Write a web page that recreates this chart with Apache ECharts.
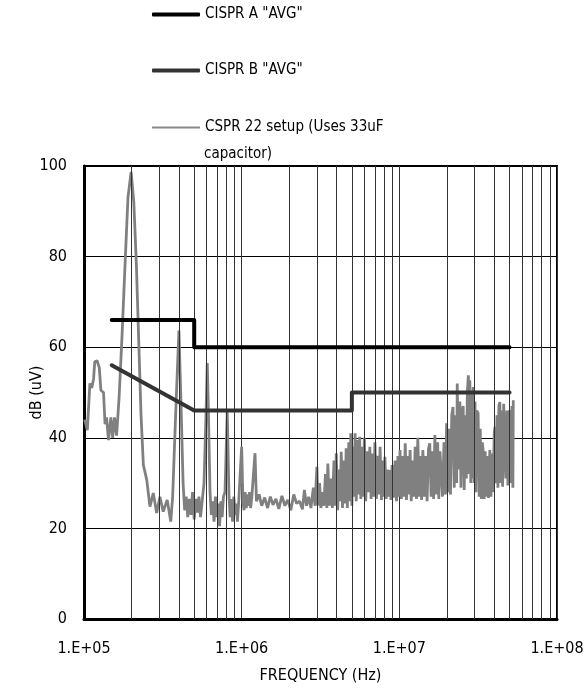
<!DOCTYPE html>
<html>
<head>
<meta charset="utf-8">
<script src="https://cdn.jsdelivr.net/npm/echarts@6/dist/echarts.min.js"></script>
<style>
html,body{margin:0;padding:0;background:#fff;}
#chart{width:587px;height:696px;}
</style>
</head>
<body>
<div id="chart"></div>
<script>
var FONT = '"Liberation Sans Narrow", "Arial Narrow", "DejaVu Sans Condensed", sans-serif';

var seriesNames = ['CISPR A "AVG"', 'CISPR B "AVG"', 'CSPR 22 setup (Uses 33uF capacitor)'];
var xTickLabels = ['1.E+05', '1.E+06', '1.E+07', '1.E+08'];
var yTicks = [0, 20, 40, 60, 80, 100];

// limit lines [frequency kHz, dB]
var cisprA = [[150, 66], [500, 66], [500, 60], [50000, 60]];
var cisprB = [[150, 56], [500, 46], [5000, 46], [5000, 50], [50000, 50]];

// minor vertical gridlines (kHz)
var minorFreqs = [200,300,400,500,600,700,800,900,
  2000,3000,4000,5000,6000,7000,8000,9000,
  20000,30000,40000,50000,60000,70000,80000,90000];

// measured spectrum [frequency kHz, dB(uV)]
var noise = [
 [101,44],[105,41.7],[109,52],[112,51],[115,53],[117,56.8],[121,57],[125,55.5],[128,50.5],[133,50],
 [136,43],[139,44.5],[143,39.5],[148,44.5],[152,40],[156,44.5],[161,40.5],[167,49],[174,62],[182,78],
 [190,93],[199,98.7],[207,92],[215,78],[223,60],[230,45],[238,34],[250,30.7],[262,24.8],[275,27.8],
 [289,23.4],[303,27],[318,23.7],[337,26.3],[355,21.5],[365,27],[372,35],[386,50],[400,63.7],[412,48],
 [425,30],[435,24],[445,27],[455,22.5],[466,26.5],[477,23],[488,28],[500,22],[512,26.5],[524,23.5],
 [536,27],[548,22.5],[560,25.5],[577,30],[594,45],[605,56.5],[616,45],[630,28],[642,23],[655,26],
 [668,21.5],[682,27],[696,22.5],[710,25.5],[724,20.5],[738,26],[752,22.5],[766,27],[784,28],[810,45.7],
 [831,27],[845,22.5],[860,26.5],[876,21.5],[892,27],[908,23],[924,25.5],[940,21.5],[958,26],[975,26],
 [1000,38],[1019,26],[1035,24],[1052,28],[1070,24.5],[1088,27.5],[1105,25],[1122,28],[1140,24.5],[1160,27],
 [1188,27],[1215,36.6],[1241,26],[1290,27.5],[1340,25],[1400,26.8],[1460,24.5],[1520,27],[1580,25.2],[1650,26.5],
 [1720,24.3],[1800,27.2],[1880,25],[1960,26.3],[2050,24],[2140,27.5],[2230,25.5],[2330,26],[2430,24.2],[2500,28.5],
 [2580,25],[2660,27],[2750,24.5],[2850,29],[2920,25],
 [3000,33.6],[3050,25],[3120,30],[3180,24.5],[3250,28],[3320,25],[3400,32],[3470,24.5],[3520,34.3],[3600,25],
 [3680,31],[3760,24.5],[3850,35],[3920,25],[3980,36.6],[4060,24],[4150,33],[4220,26],[4280,36.9],[4360,24.5],
 [4450,35],[4520,25.5],[4600,37.7],[4680,24.5],[4780,39],[4860,26],[4920,41],[5000,25],[5080,38],[5160,27],
 [5240,41],[5330,26],[5420,39.5],[5500,27.5],[5600,40.2],[5700,26.5],[5800,38],[5900,27],[6000,40],[6120,26],
 [6250,37],[6380,28],[6500,38],[6620,26.5],[6750,36.5],[6880,27],[7000,39],[7150,26.5],[7300,36],[7450,27.5],
 [7550,38],[7700,26.3],[7850,35],[8000,27],[8100,35.8],[8250,26.5],[8400,33],[8550,27],[8700,32.9],[8850,26.3],
 [9000,34],[9200,26.8],[9400,35],[9600,26],[9800,36],[10000,27],[10100,37.3],[10300,26.5],[10500,36],[10700,27],
 [10900,38.8],[11100,26.3],[11300,36],[11500,27.5],[11700,37.3],[11900,26],[12100,35],[12350,27],[12600,38],[12850,26.5],
 [13100,40],[13350,27],[13600,36],[13850,26.3],[14100,37.3],[14400,27],[14700,36],[15000,26],[15300,37.5],[15600,38.8],
 [15900,27],[16200,37],[16500,26.5],[16800,40.6],[17200,27.5],[17500,39],[17800,26.5],[18100,37],[18500,37.3],[18800,27],
 [19200,39],[19600,27.5],[19950,43.2],[20300,28],[20700,42],[21100,27.5],[21500,45],[21900,46.8],[22300,29],[22700,45],
 [23100,30],[23300,52],[23700,33],[24200,48],[24600,29],[25000,46],[25400,47],[25800,28.5],[26200,45],[26600,31],
 [27000,50],[27400,53.8],[27700,32],[28000,52.7],[28400,30],[28800,50],[29100,31],[29400,51.2],[29800,30],[30200,48],
 [30600,28],[31000,46],[31600,45.4],[32100,27],[32600,42],[33100,26.5],[33600,39],[34000,37.3],[34500,26.5],[35000,37],
 [35600,27],[36200,36],[36800,26.7],[37500,37.3],[38100,27],[38700,36.5],[39300,28],[40000,41],[40400,42.4],[41000,30],
 [41600,45],[42200,29],[42800,47],[43400,47.9],[44000,30],[44600,46],[45200,29.2],[45900,47.5],[46700,47.9],[47400,31],
 [48100,46],[48800,29.5],[49500,45],[50300,46.1],[51000,30],[51800,47],[52500,29],[52800,48.3]
];

function toHz(arr) { return arr.map(function (p) { return [p[0] * 1000, p[1]]; }); }

var chart = echarts.init(document.getElementById('chart'), null, {renderer: 'canvas'});

function legendFor(idx, top, h, color, fmt) {
  return {
    data: [{name: seriesNames[idx], icon: 'roundRect', itemStyle: {color: color}}],
    left: 152, top: top, padding: 0, itemWidth: 48, itemHeight: h,
    selectedMode: false,
    textStyle: {fontFamily: FONT, fontSize: 15, color: '#000'},
    formatter: fmt || undefined
  };
}

var option = {
  animation: false,
  backgroundColor: '#fff',
  legend: [
    legendFor(0, 7, 4, '#000'),
    legendFor(1, 63, 4, '#333'),
    legendFor(2, 120, 2, '#888', function () { return 'CSPR 22 setup (Uses 33uF'; })
  ],
  graphic: [{
    type: 'text', left: 204, top: 147,
    style: {text: 'capacitor)', font: '15px ' + FONT, fill: '#000'}
  }],
  grid: {left: 84, right: 30, top: 166, bottom: 77, show: true, borderColor: '#000', borderWidth: 2},
  xAxis: {
    type: 'log', logBase: 10, min: 1e5, max: 1e8,
    name: 'FREQUENCY (Hz)', nameLocation: 'middle', nameGap: 49, nameMoveOverlap: false,
    nameTextStyle: {fontFamily: FONT, fontSize: 16, color: '#000'},
    axisLine: {show: true, lineStyle: {color: '#000', width: 3}},
    axisTick: {show: false},
    axisLabel: {
      margin: 22, fontFamily: FONT, fontSize: 16, color: '#000',
      formatter: function (v) { var e = Math.round(Math.log10(v)); return xTickLabels[e - 5]; }
    },
    splitLine: {show: true, lineStyle: {color: '#333', width: 1}}
  },
  yAxis: {
    type: 'value', min: yTicks[0], max: yTicks[yTicks.length - 1], interval: 20,
    name: 'dB (uV)', nameLocation: 'middle', nameGap: 39, nameMoveOverlap: false,
    nameTextStyle: {fontFamily: FONT, fontSize: 16, color: '#000'},
    axisLine: {show: true, lineStyle: {color: '#000', width: 3}},
    axisTick: {show: false},
    axisLabel: {margin: 17, fontFamily: FONT, fontSize: 16, color: '#000'},
    splitLine: {show: true, lineStyle: {color: '#000', width: 1}}
  },
  series: [
    {
      name: 'gridlines', type: 'line', data: [], z: 1, silent: true,
      markLine: {
        silent: true, symbol: ['none', 'none'], label: {show: false}, animation: false,
        lineStyle: {color: '#333', width: 1, type: 'solid'},
        emphasis: {disabled: true},
        data: minorFreqs.map(function (f) { return {xAxis: f * 1000}; })
      }
    },
    {
      name: seriesNames[2], type: 'line', data: toHz(noise), z: 3,
      symbol: 'none', lineStyle: {color: '#808080', width: 2.8}, itemStyle: {color: '#808080'}
    },
    {
      name: seriesNames[1], type: 'line', data: toHz(cisprB), z: 4,
      symbol: 'none', lineStyle: {color: '#333', width: 4, cap: 'round', join: 'round'}, itemStyle: {color: '#333'}
    },
    {
      name: seriesNames[0], type: 'line', data: toHz(cisprA), z: 5,
      symbol: 'none', lineStyle: {color: '#000', width: 4, cap: 'round', join: 'round'}, itemStyle: {color: '#000'}
    }
  ]
};
chart.setOption(option);
</script>
</body>
</html>
